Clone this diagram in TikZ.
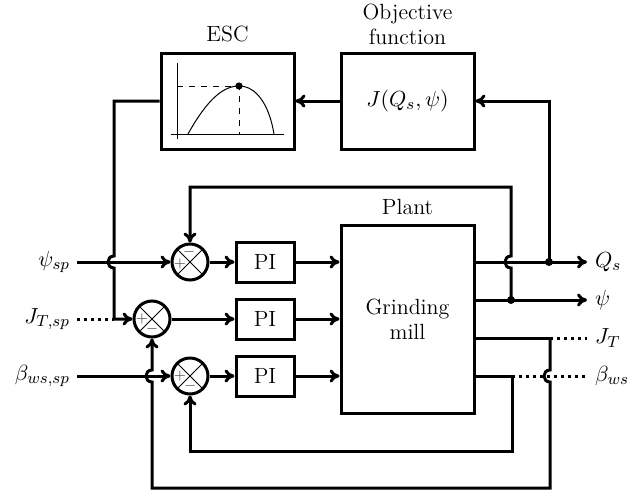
\documentclass[tikz,border=0pt]{standalone}
\usetikzlibrary{positioning,calc,arrows.meta}

\tikzset{
  sig/.style={line width=1.5pt},
  block/.style={draw, line width=1.5pt, minimum width=66.5pt, minimum height=48pt, inner sep=0pt},
  piblock/.style={draw, line width=1.5pt, minimum width=29pt, minimum height=20pt, inner sep=0pt},
  sumnode/.style={draw, circle, line width=1.5pt, minimum size=18pt, inner sep=0pt,
    path picture={\draw[line width=0.5pt]
      (path picture bounding box.north west) -- (path picture bounding box.south east)
      (path picture bounding box.north east) -- (path picture bounding box.south west);}},
  sgn/.style={font=\scriptsize, inner sep=0pt, text=black!70},
  dot/.style={circle, fill, inner sep=0pt, minimum size=4pt},
}

\begin{document}
\begin{tikzpicture}[x=0.5pt, y=-0.5pt, >={To[length=5pt,width=6.5pt]},
    font=\fontsize{11}{12.6}\selectfont]
  \useasboundingbox (0,0) rectangle (631,493);

  % Blocks
  \node[block] (esc) at (227.5,101) {};
  \node[above=1pt] at (esc.north) {ESC};
  \node[block] (obj) at (407.5,101) {$J(Q_s,\psi)$};
  \node[above=0pt, align=center] at (obj.north) {Objective\\function};
  \node[block, minimum height=94pt, align=center] (plant) at (407.5,319) {Grinding\\mill};
  \node[above=1pt] at (plant.north) {Plant};

  \node[piblock] (pi1) at (265,262) {PI};
  \node[piblock] (pi2) at (265,319) {PI};
  \node[piblock] (pi3) at (265,376) {PI};

  % Summing junctions
  \node[sumnode] (sum1) at (190,262) {};
  \node[sumnode] (sum2) at (152,319) {};
  \node[sumnode] (sum3) at (190,376) {};
  \node[sgn] at ($(sum1)+(-10,2)$) {$+$};
  \node[sgn] at ($(sum1)+(-1,-10)$) {$-$};
  \node[sgn] at ($(sum2)+(-10,0)$) {$+$};
  \node[sgn] at ($(sum2)+(0,10)$) {$-$};
  \node[sgn] at ($(sum3)+(-10,0)$) {$+$};
  \node[sgn] at ($(sum3)+(0,10)$) {$-$};

  % Extremum seeking curve
  \draw[line width=0.5pt] (177,63) -- (177,139);
  \draw[line width=0.5pt] (171,134) -- (284,134);
  \draw[line width=0.5pt] (188,134) .. controls (208,98) and (224,86) .. (239,86)
    .. controls (256,86) and (269,104) .. (274,134);
  \draw[line width=0.5pt, dashed] (177,86) -- (239,86) -- (239,134);
  \fill (239,86) circle (1.8pt);

  % Inputs
  \coordinate (in1) at (77,262);
  \coordinate (in2) at (77,319);
  \coordinate (in3) at (77,376);
  \node[left] at (in1) {$\psi_{sp}$};
  \node[left] at (in2) {$J_{T,sp}$};
  \node[left] at (in3) {$\beta_{ws,sp}$};
  \draw[sig,->] (in1) -- (sum1.west);
  \draw[sig,dotted] (in2) -- (114,319);
  \draw[sig,->] (in3) -- (sum3.west);

  % Forward path
  \foreach \i in {1,2,3} {
    \draw[sig,->] (sum\i) -- (pi\i);
    \draw[sig,->] (pi\i.east) -- (pi\i.east -| plant.west);
  }

  % Outputs
  \coordinate (oQ) at (474,262);
  \coordinate (opsi) at (474,300);
  \coordinate (oJ) at (474,338);
  \coordinate (ob) at (474,376);
  \coordinate (outQ) at (587,262);
  \coordinate (outpsi) at (587,300);
  \coordinate (outJ) at (587,338);
  \coordinate (outb) at (587,376);
  \coordinate (dQ) at (549,262);
  \coordinate (dpsi) at (511,300);
  \coordinate (bJ) at (550,338);
  \coordinate (bb) at (512,376);
  \draw[sig,->] (oQ) -- (outQ) node[right] {$Q_s$};
  \draw[sig,->] (opsi) -- (outpsi) node[right] {$\psi$};
  \draw[sig] (oJ) -- (bJ);
  \draw[sig,dotted] (bJ) -- (outJ) node[right] {$J_T$};
  \draw[sig] (ob) -- (bb);
  \draw[sig,dotted] (bb) -- (outb) node[right] {$\beta_{ws}$};
  \node[dot] at (dQ) {};
  \node[dot] at (dpsi) {};

  % ESC loop
  \draw[sig,->] (dQ) |- (obj.east);
  \draw[sig,->] (obj.west) -- (esc.east);
  \draw[sig,->] (esc.west) -- (114,101) -- (114,256)
    .. controls +(-8,0) and +(-8,0) .. (114,268) -- (114,319) -- (sum2.west);

  % Feedback loops
  \draw[sig,->] (dpsi) -- (511,268) .. controls +(-8,0) and +(-8,0) .. (511,256)
    -- (511,187) -| (sum1.north);
  \draw[sig,->] (bJ) -- (550,370) .. controls +(-8,0) and +(-8,0) .. (550,382)
    -- (550,488) -- (152,488) -- (152,382) .. controls +(-8,0) and +(-8,0) .. (152,370)
    -- (sum2.south);
  \draw[sig,->] (bb) -- (512,451) -| (sum3.south);
\end{tikzpicture}
\end{document}
